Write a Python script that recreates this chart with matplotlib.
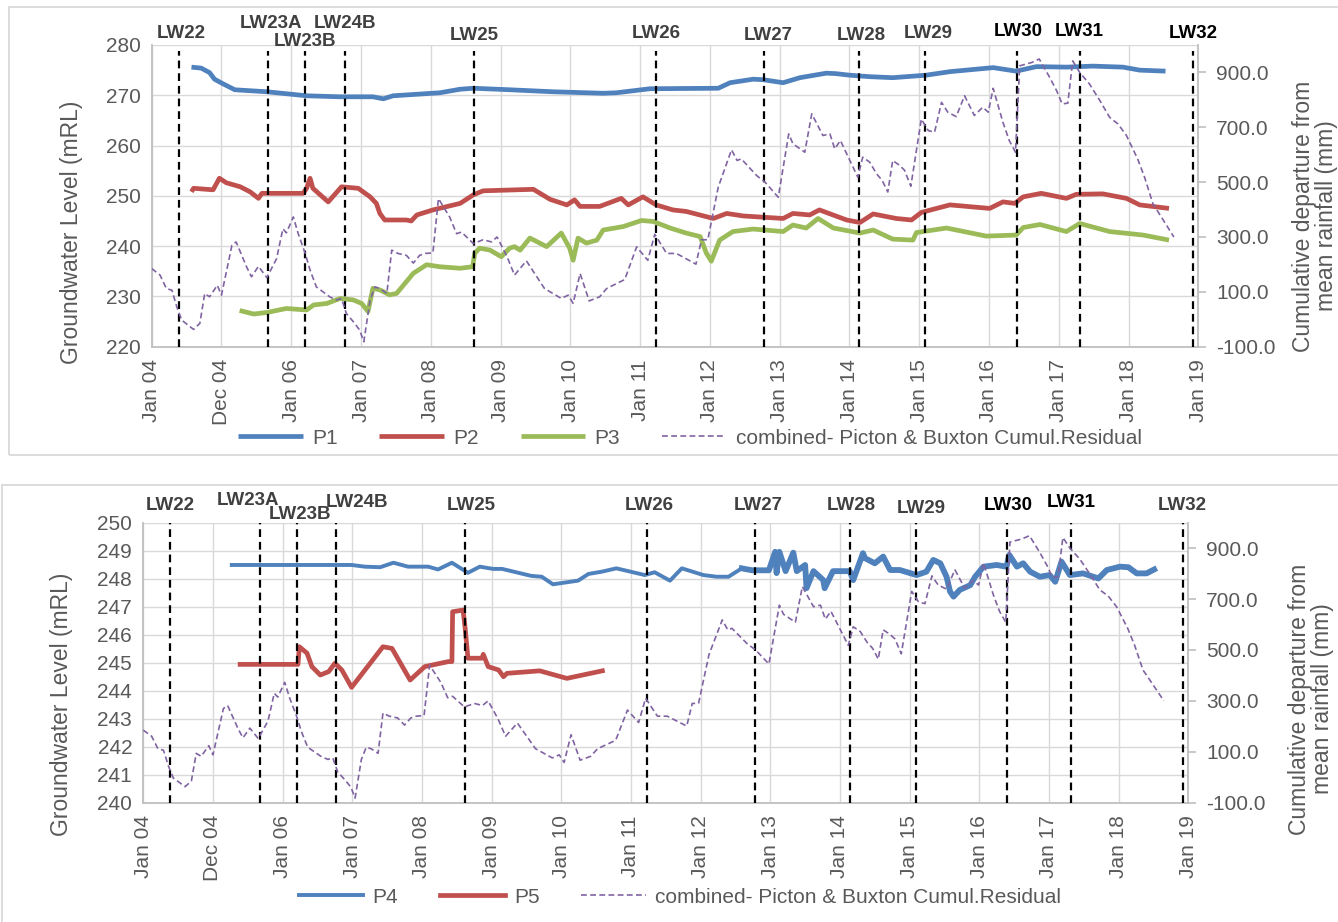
#!/usr/bin/env python3
"""
Groundwater levels at piezometers P1-P5 against longwall panel start dates,
with the combined Picton & Buxton cumulative rainfall residual on the right axis.
"""
import matplotlib

matplotlib.use("Agg")
import matplotlib.pyplot as plt  # noqa: E402
from matplotlib.patches import Rectangle  # noqa: E402

plt.rcParams["font.family"] = ["Liberation Sans", "DejaVu Sans"]

# ---- data (decimal years / mRL / mm) ----
YEAR_TICKS = list(range(2004, 2020))
YEAR_LABELS = ["Jan 04", "Dec 04", "Jan 06", "Jan 07", "Jan 08", "Jan 09", "Jan 10",
               "Jan 11", "Jan 12", "Jan 13", "Jan 14", "Jan 15", "Jan 16", "Jan 17",
               "Jan 18", "Jan 19"]

LW_NAMES = ["LW22", "LW23A", "LW23B", "LW24B", "LW25", "LW26", "LW27", "LW28",
            "LW29", "LW30", "LW31", "LW32"]
LW_YEAR = [2004.39, 2005.67, 2006.20, 2006.77, 2008.62, 2011.23, 2012.78, 2014.14,
           2015.09, 2016.40, 2017.31, 2018.92]

RES_YR = [2004.00, 2004.12, 2004.21, 2004.29, 2004.36, 2004.43, 2004.60, 2004.69, 2004.76,
          2004.83, 2004.94, 2005.00, 2005.15, 2005.21, 2005.36, 2005.43, 2005.53, 2005.65,
          2005.79, 2005.88, 2005.93, 2006.03, 2006.10, 2006.20, 2006.27, 2006.36, 2006.55,
          2006.65, 2006.72, 2006.79, 2006.89, 2006.98, 2007.04, 2007.13, 2007.20, 2007.27,
          2007.37, 2007.44, 2007.53, 2007.65, 2007.75, 2007.84, 2007.92, 2008.03, 2008.11,
          2008.27, 2008.37, 2008.44, 2008.61, 2008.75, 2008.87, 2008.95, 2009.09, 2009.20,
          2009.37, 2009.63, 2009.87, 2009.97, 2010.04, 2010.14, 2010.27, 2010.42, 2010.52,
          2010.78, 2010.95, 2011.11, 2011.21, 2011.38, 2011.52, 2011.80, 2011.88, 2011.97,
          2012.12, 2012.31, 2012.39, 2012.45, 2012.67, 2012.79, 2012.98, 2013.13, 2013.19,
          2013.36, 2013.46, 2013.62, 2013.72, 2013.79, 2013.87, 2014.12, 2014.19, 2014.29,
          2014.39, 2014.47, 2014.55, 2014.62, 2014.72, 2014.79, 2014.88, 2015.03, 2015.13,
          2015.22, 2015.32, 2015.41, 2015.53, 2015.65, 2015.79, 2015.91, 2015.99, 2016.06,
          2016.20, 2016.29, 2016.38, 2016.44, 2016.61, 2016.72, 2016.87, 2016.97, 2017.05,
          2017.13, 2017.20, 2017.30, 2017.44, 2017.59, 2017.73, 2017.85, 2017.97, 2018.13,
          2018.23, 2018.35, 2018.47, 2018.65]
RES_MM = [185, 161, 112, 106, 45, -3, -37, -15, 94,
          82, 124, 88, 270, 282, 191, 155, 193, 152,
          221, 330, 315, 373, 312, 240, 179, 118, 82,
          70, 76, 21, -9, -39, -82, 70, 118, 112,
          94, 252, 240, 233, 205, 233, 240, 242, 440,
          373, 312, 318, 276, 290, 282, 300, 230, 161,
          213, 112, 76, 88, 58, 167, 67, 82, 112,
          145, 264, 215, 310, 240, 240, 201, 290, 290,
          482, 618, 579, 585, 524, 500, 445, 676, 640,
          609, 749, 670, 676, 621, 652, 518, 591, 573,
          530, 506, 464, 579, 561, 543, 485, 730, 688,
          682, 791, 755, 739, 815, 743, 773, 755, 842,
          718, 652, 609, 924, 936, 949, 882, 833, 785,
          788, 942, 900, 858, 797, 736, 712, 670, 585,
          518, 421, 373, 300]

P1_YR = [2004.57, 2004.71, 2004.83, 2004.90, 2005.02, 2005.19, 2005.65, 2006.22, 2006.70,
         2007.17, 2007.32, 2007.46, 2008.13, 2008.42, 2008.61, 2009.13, 2009.75, 2010.47,
         2010.66, 2011.14, 2012.12, 2012.29, 2012.62, 2012.76, 2013.05, 2013.29, 2013.67,
         2013.81, 2014.00, 2014.29, 2014.62, 2015.10, 2015.44, 2016.06, 2016.39, 2016.68,
         2017.11, 2017.49, 2017.92, 2018.16, 2018.53]
P1_M = [275.6, 275.4, 274.5, 273.2, 272.3, 271.1, 270.7, 269.9, 269.7,
        269.7, 269.3, 269.9, 270.5, 271.2, 271.4, 271.1, 270.7, 270.4,
        270.5, 271.3, 271.4, 272.5, 273.2, 273.1, 272.5, 273.5, 274.4,
        274.3, 274.0, 273.7, 273.5, 274.0, 274.7, 275.5, 274.8, 275.7,
        275.6, 275.8, 275.6, 275.0, 274.8]

P2_YR = [2004.57, 2004.60, 2004.88, 2004.97, 2005.07, 2005.27, 2005.41, 2005.53, 2005.58,
         2006.17, 2006.22, 2006.27, 2006.31, 2006.53, 2006.72, 2006.96, 2007.13, 2007.22,
         2007.27, 2007.34, 2007.65, 2007.72, 2007.80, 2008.03, 2008.42, 2008.61, 2008.75,
         2009.47, 2009.71, 2009.95, 2010.06, 2010.14, 2010.42, 2010.73, 2010.83, 2011.04,
         2011.23, 2011.47, 2011.66, 2012.05, 2012.24, 2012.48, 2013.05, 2013.19, 2013.43,
         2013.57, 2013.96, 2014.15, 2014.34, 2014.67, 2014.89, 2015.03, 2015.44, 2016.01,
         2016.20, 2016.37, 2016.49, 2016.75, 2017.11, 2017.25, 2017.63, 2017.97, 2018.16,
         2018.58]
P2_M = [250.8, 251.5, 251.2, 253.5, 252.6, 251.8, 250.8, 249.5, 250.5,
        250.5, 251.5, 253.5, 251.5, 248.8, 251.8, 251.5, 249.8, 248.5,
        246.5, 245.2, 245.2, 245.0, 246.2, 247.2, 248.5, 250.2, 251.0,
        251.3, 249.3, 248.2, 249.2, 247.9, 247.9, 249.5, 248.2, 249.8,
        248.2, 247.2, 246.9, 245.5, 246.5, 246.0, 245.5, 246.5, 246.2,
        247.2, 245.2, 244.7, 246.4, 245.5, 245.2, 246.7, 248.2, 247.5,
        248.8, 248.5, 249.8, 250.5, 249.5, 250.3, 250.4, 249.5, 248.2,
        247.5]

P3_YR = [2005.26, 2005.46, 2005.65, 2005.93, 2006.22, 2006.32, 2006.51, 2006.70, 2006.89,
         2007.01, 2007.10, 2007.17, 2007.27, 2007.41, 2007.51, 2007.75, 2007.94, 2008.13,
         2008.42, 2008.60, 2008.63, 2008.70, 2008.85, 2009.01, 2009.13, 2009.20, 2009.28,
         2009.42, 2009.66, 2009.87, 2009.99, 2010.04, 2010.11, 2010.23, 2010.38, 2010.47,
         2010.76, 2011.02, 2011.19, 2011.43, 2011.66, 2011.86, 2011.95, 2012.02, 2012.14,
         2012.33, 2012.62, 2013.05, 2013.19, 2013.38, 2013.55, 2013.77, 2014.15, 2014.34,
         2014.62, 2014.91, 2014.96, 2015.39, 2015.96, 2016.39, 2016.49, 2016.73, 2017.11,
         2017.30, 2017.73, 2018.21, 2018.58]
P3_M = [227.2, 226.5, 226.8, 227.6, 227.3, 228.3, 228.6, 229.6, 229.3,
        228.6, 227.0, 231.6, 231.3, 230.3, 230.6, 234.6, 236.3, 235.9,
        235.6, 235.9, 238.6, 239.6, 239.2, 237.9, 239.6, 239.9, 239.2,
        241.6, 239.9, 242.6, 239.6, 237.2, 241.6, 240.6, 241.2, 243.2,
        243.9, 245.1, 244.9, 243.6, 242.6, 241.9, 238.6, 237.0, 241.2,
        242.9, 243.4, 242.9, 244.2, 243.6, 245.5, 243.6, 242.6, 243.2,
        241.4, 241.2, 242.7, 243.6, 242.0, 242.2, 243.7, 244.3, 242.9,
        244.5, 242.9, 242.2, 241.2]

P4_YR = [2005.27, 2006.99, 2007.18, 2007.40, 2007.59, 2007.80, 2008.09, 2008.23, 2008.43,
         2008.66, 2008.83, 2009.02, 2009.15, 2009.57, 2009.72, 2009.88, 2010.24, 2010.39,
         2010.58, 2010.79, 2011.20, 2011.34, 2011.56, 2011.73, 2012.04, 2012.23, 2012.40,
         2012.59, 2012.74, 2012.98, 2013.07, 2013.09, 2013.13, 2013.22, 2013.33, 2013.38,
         2013.50, 2013.52, 2013.62, 2013.76, 2013.78, 2013.90, 2014.14, 2014.19, 2014.33,
         2014.36, 2014.50, 2014.62, 2014.72, 2014.86, 2015.10, 2015.24, 2015.34, 2015.44,
         2015.53, 2015.58, 2015.63, 2015.72, 2015.87, 2015.94, 2016.06, 2016.25, 2016.39,
         2016.43, 2016.54, 2016.63, 2016.73, 2016.87, 2017.01, 2017.09, 2017.18, 2017.30,
         2017.49, 2017.71, 2017.83, 2018.02, 2018.14, 2018.26, 2018.40, 2018.51]
P4_M = [248.49, 248.49, 248.43, 248.41, 248.57, 248.43, 248.43, 248.33, 248.57,
        248.21, 248.43, 248.35, 248.35, 248.10, 248.07, 247.80, 247.93, 248.17,
        248.25, 248.37, 248.13, 248.23, 247.93, 248.37, 248.13, 248.07, 248.07,
        248.37, 248.30, 248.30, 248.96, 248.20, 248.96, 248.27, 248.93, 248.27,
        248.49, 247.66, 248.27, 247.95, 247.66, 248.27, 248.27, 247.95, 248.91,
        248.73, 248.55, 248.79, 248.31, 248.31, 248.13, 248.25, 248.67, 248.55,
        248.07, 247.54, 247.36, 247.60, 247.77, 248.07, 248.43, 248.49, 248.43,
        248.85, 248.43, 248.55, 248.25, 248.07, 248.13, 247.89, 248.61, 248.13,
        248.19, 248.01, 248.31, 248.43, 248.41, 248.19, 248.19, 248.33]

P5_YR = [2005.39, 2006.22, 2006.24, 2006.35, 2006.42, 2006.54, 2006.66, 2006.75, 2006.85,
         2006.99, 2007.44, 2007.57, 2007.83, 2008.04, 2008.38, 2008.43, 2008.44, 2008.59,
         2008.62, 2008.66, 2008.86, 2008.88, 2008.95, 2009.10, 2009.17, 2009.22, 2009.69,
         2010.08, 2010.59]
P5_M = [244.94, 244.94, 245.57, 245.34, 244.86, 244.56, 244.68, 244.98, 244.74,
        244.12, 245.57, 245.51, 244.38, 244.86, 245.04, 245.04, 246.82, 246.88,
        246.23, 245.16, 245.16, 245.30, 244.86, 244.74, 244.50, 244.62, 244.71,
        244.44, 244.71]

RES_LABEL = "combined- Picton & Buxton Cumul.Residual"

BLUE, RED, GREEN, PURPLE = "#4F81BD", "#C0504D", "#9BBB59", "#8064A2"
GRID, SPINE, TXT = "#D9D9D9", "#BFBFBF", "#595959"
FS = 15
FS_LABEL = 16.5

W, H = 1338, 922


def fx(px):
    return px / W


def fy(py):
    return 1 - py / H


def setup_axes(fig, rect, ylim, yticks):
    ax = fig.add_axes(rect)
    ax.set_xlim(2004, 2019)
    ax.set_ylim(*ylim)
    ax.set_xticks(YEAR_TICKS)
    ax.set_xticklabels(YEAR_LABELS, rotation=90)
    ax.set_yticks(yticks)
    ax.grid(True, color=GRID, lw=1.0)
    ax.set_axisbelow(True)
    for s in ("top", "right"):
        ax.spines[s].set_visible(False)
    for s in ("left", "bottom"):
        ax.spines[s].set_color(SPINE)
        ax.spines[s].set_linewidth(1.3)
    ax.tick_params(axis="both", length=0, labelsize=FS, labelcolor=TXT)
    ax.tick_params(axis="x", pad=9)
    ax.tick_params(axis="y", pad=8)

    ax2 = ax.twinx()
    ax2.set_ylim(-100, 1000)
    ax2.set_yticks(range(-100, 901, 200))
    ax2.set_yticklabels([f"{v:.1f}" for v in range(-100, 901, 200)])
    for s in ("top", "left", "bottom"):
        ax2.spines[s].set_visible(False)
    ax2.spines["right"].set_color(SPINE)
    ax2.spines["right"].set_linewidth(1.3)
    ax2.tick_params(axis="y", direction="out", length=6, width=1.2, color=SPINE,
                    labelsize=FS, labelcolor=TXT, pad=7)
    return ax, ax2


def draw_longwalls(ax2, dx, dy, top, dark):
    for name, x, ox, oy in zip(LW_NAMES, LW_YEAR, dx, dy):
        ax2.axvline(x, ymin=0, ymax=top, color="black", lw=1.6, dashes=(3.5, 2.2))
        ax2.annotate(name, xy=(x, 1), xycoords=ax2.get_xaxis_transform(),
                     xytext=(ox, oy), textcoords="offset pixels",
                     ha="center", va="center", fontsize=13.5, fontweight="bold",
                     color="black" if name in dark else "#404040",
                     annotation_clip=False)


def draw_residual(ax2):
    (h,) = ax2.plot(RES_YR, RES_MM, color=PURPLE, lw=1.2, dashes=(3.5, 2.0),
                    label=RES_LABEL, zorder=5)
    return h


fig = plt.figure(figsize=(W / 100, H / 100), dpi=100)
fig.patches.append(Rectangle((fx(9), fy(455)), fx(1336), 448 / H, transform=fig.transFigure,
                             fill=False, edgecolor=GRID, lw=1.3))
fig.patches.append(Rectangle((fx(2), fy(935)), fx(1343), 450 / H, transform=fig.transFigure,
                             fill=False, edgecolor=GRID, lw=1.3))

# ---- top panel: P1-P3 ----
ax, ax2 = setup_axes(fig, [fx(151.7), fy(346.7), fx(1198.3 - 151.7), (346.7 - 45) / H],
                     (220, 280), range(220, 281, 10))
h1, = ax.plot(P1_YR, P1_M, color=BLUE, lw=3.4, label="P1", solid_capstyle="butt")
h2, = ax.plot(P2_YR, P2_M, color=RED, lw=3.4, label="P2", solid_capstyle="butt")
h3, = ax.plot(P3_YR, P3_M, color=GREEN, lw=3.4, label="P3", solid_capstyle="butt")
draw_longwalls(ax2, [2, 3, 0, 0, 0, 0, 4, 2, 3, 1, -1, 1],
               [12, 22, 3, 22, 9, 12, 9, 9, 12, 14, 14, 12], 0.98,
               ("LW30", "LW31", "LW32"))
hr = draw_residual(ax2)
fig.text(fx(72), fy(232), "Groundwater Level (mRL)", rotation=90, ha="center",
         va="center", fontsize=FS_LABEL, color=TXT)
fig.text(fx(1315), fy(216), "Cumulative departure from\nmean rainfall (mm)", rotation=90,
         ha="center", va="center", multialignment="center", fontsize=FS_LABEL, color=TXT,
         linespacing=1.0)
fig.legend([h1, h2, h3, hr], ["P1", "P2", "P3", RES_LABEL], loc="center",
           bbox_to_anchor=(fx(690), fy(438)), ncol=4, frameon=False, fontsize=FS,
           labelcolor=TXT, handlelength=3.1, handletextpad=0.45, columnspacing=2.0)

# ---- bottom panel: P4-P5 ----
bx, bx2 = setup_axes(fig, [fx(143.3), fy(802.7), fx(1188.3 - 143.3), (802.7 - 522.7) / H],
                     (240, 250), range(240, 251, 1))
h4, = bx.plot(P4_YR, P4_M, color=BLUE, lw=2.8, label="P4")
n4 = sum(1 for y in P4_YR if y < 2012.58)
bx.plot(P4_YR[n4:], P4_M[n4:], color=BLUE, lw=4.2)
h5, = bx.plot(P5_YR, P5_M, color=RED, lw=3.4, label="P5")
draw_longwalls(bx2, [0, -12, 3, 21, 6, 2, 3, 2, 5, 1, 1, 0],
               [17, 22, 8, 20, 17, 17, 17, 17, 14, 17, 20, 17], 1.0,
               ("LW30", "LW31"))
hr2 = draw_residual(bx2)
fig.text(fx(62), fy(704), "Groundwater Level (mRL)", rotation=90, ha="center",
         va="center", fontsize=FS_LABEL, color=TXT)
fig.text(fx(1311), fy(699), "Cumulative departure from\nmean rainfall (mm)", rotation=90,
         ha="center", va="center", multialignment="center", fontsize=FS_LABEL, color=TXT,
         linespacing=1.0)
fig.legend([h4, h5, hr2], ["P4", "P5", RES_LABEL], loc="center",
           bbox_to_anchor=(fx(680), fy(897)), ncol=3, frameon=False, fontsize=FS,
           labelcolor=TXT, handlelength=3.1, handletextpad=0.45, columnspacing=2.0)

fig.savefig("out.png", dpi=100)
plt.close(fig)
